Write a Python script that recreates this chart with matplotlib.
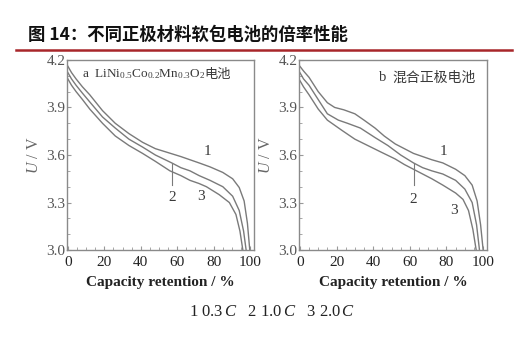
import matplotlib
matplotlib.use("Agg")
import matplotlib.pyplot as plt
from matplotlib.ticker import MultipleLocator

plt.rcParams['font.family'] = ['Liberation Serif', 'Noto Sans CJK SC']
plt.rcParams['mathtext.fontset'] = 'custom'
plt.rcParams['mathtext.rm'] = 'Liberation Serif'
plt.rcParams['mathtext.it'] = 'Liberation Serif:italic'

# panel a: LiNi0.5Co0.2Mn0.3O2 cell (capacity retention %, voltage V)
a1_x = [0, 2, 4.5, 8, 12, 19, 26, 33.5, 41, 48, 55, 62, 67, 72, 78, 85, 90.4, 94, 96.7, 98.5, 99.8]
a1_v = [4.16, 4.12, 4.08, 4.03, 3.98, 3.88, 3.80, 3.735, 3.68, 3.64, 3.615, 3.59, 3.57, 3.55,
        3.525, 3.49, 3.45, 3.395, 3.31, 3.17, 3.0]
a2_x = [0, 2, 4.5, 8, 12, 19, 26, 33.5, 41, 48, 57, 62, 67, 72, 78, 85, 90.4, 94, 96.4, 97.8]
a2_v = [4.12, 4.08, 4.04, 3.99, 3.935, 3.84, 3.77, 3.70, 3.65, 3.60, 3.55, 3.52, 3.50, 3.47,
        3.44, 3.40, 3.34, 3.25, 3.12, 3.0]
a3_x = [0, 2, 4.5, 8, 12, 19, 26, 33.5, 41, 48, 56, 62, 67, 72, 76, 83, 88.6, 92.2, 94.4, 96]
a3_v = [4.08, 4.04, 4.0, 3.95, 3.89, 3.80, 3.72, 3.66, 3.61, 3.56, 3.50, 3.47, 3.44, 3.42,
        3.40, 3.35, 3.30, 3.225, 3.12, 3.0]

# panel b: blended cathode cell
b1_x = [0, 2, 5, 10, 15, 19, 24, 30, 35, 41, 46, 52, 57, 62, 67, 72, 78, 85, 90, 94, 96.7, 98.6, 100]
b1_v = [4.16, 4.13, 4.09, 4.00, 3.93, 3.90, 3.885, 3.86, 3.82, 3.77, 3.72, 3.67, 3.64, 3.61,
        3.59, 3.57, 3.55, 3.51, 3.47, 3.41, 3.31, 3.16, 3.0]
b2_x = [0, 2, 5, 10, 15, 21, 26, 33, 41, 48, 55, 62, 67, 72, 78, 85, 90, 94, 96.4, 98]
b2_v = [4.12, 4.08, 4.04, 3.95, 3.86, 3.82, 3.80, 3.77, 3.71, 3.66, 3.60, 3.55, 3.52, 3.50,
        3.48, 3.44, 3.385, 3.30, 3.16, 3.0]
b3_x = [0, 2, 5, 10, 15, 23, 30, 37, 44, 52, 57, 62, 67, 72, 78, 85, 89, 92, 94.4, 96.2]
b3_v = [4.07, 4.03, 3.98, 3.89, 3.82, 3.755, 3.70, 3.66, 3.62, 3.575, 3.54, 3.51, 3.48, 3.45,
        3.41, 3.36, 3.32, 3.25, 3.13, 3.0]

x_ticks = [0, 20, 40, 60, 80, 100]
y_ticks = [3.0, 3.3, 3.6, 3.9, 4.2]

# curve label positions (x, v) and the short leader under label 2
a_labels = [('1', 76.5, 3.62), ('2', 57, 3.33), ('3', 73, 3.34)]
a_leader = (57, 3.545, 3.41)
b_labels = [('1', 78.5, 3.62), ('2', 62, 3.32), ('3', 84, 3.25)]
b_leader = (62, 3.55, 3.41)

title = '图 14：不同正极材料软包电池的倍率性能'
xlabel = 'Capacity retention / %'
legend_text = '1 0.3$\\,C$   2 1.0$\\,C$   3 2.0$\\,C$'

line_c = '#7a7a7a'
text_c = '#3a3a3a'

fig = plt.figure(figsize=(5.19, 3.63), dpi=100)

fig.text(0.054, 0.903, title, fontsize=12.5, fontweight='bold',
         family=['Noto Sans CJK SC'], color='#111111', va='center')
fig.add_artist(plt.Line2D([0.031, 0.986], [0.862, 0.862], color='#a8262a', lw=1.8))


def draw_panel(rect, curves, labels, leader):
    ax = fig.add_axes(rect)
    for xs, vs in curves:
        ax.plot(xs, vs, color=line_c, lw=1.0, solid_joinstyle='round')
    for s, x, v in labels:
        ax.text(x, v, s, fontsize=11, color=text_c, ha='center', va='center')
    ax.plot([leader[0], leader[0]], [leader[1], leader[2]], color=line_c, lw=0.8)
    ax.set_xlim(-0.5, 102)
    ax.set_ylim(3.0, 4.2)
    ax.set_xticks(x_ticks)
    ax.set_yticks(y_ticks)
    ax.set_yticklabels([f'{t:.1f}' for t in y_ticks])
    ax.xaxis.set_minor_locator(MultipleLocator(5))
    ax.yaxis.set_minor_locator(MultipleLocator(0.1))
    ax.tick_params(which='both', direction='in', color='#999999', labelsize=11,
                   labelcolor=text_c)
    ax.tick_params(axis='x', pad=4, labelcolor='#222222')
    ax.tick_params(axis='y', pad=1, labelcolor='#555555')
    ax.tick_params(which='major', length=3)
    ax.tick_params(which='minor', length=2)
    for sp in ax.spines.values():
        sp.set_color('#8a8a8a')
        sp.set_linewidth(1.0)
    ax.set_xlabel(xlabel, fontsize=11, fontweight='bold', color='#222222', labelpad=5)
    ax.set_ylabel('$U$ / V', fontsize=11.5, color='#666666', labelpad=3)
    return ax


ax_a = draw_panel([0.129, 0.311, 0.360, 0.524],
                  [(a1_x, a1_v), (a2_x, a2_v), (a3_x, a3_v)], a_labels, a_leader)
t_a = ax_a.text(7.5, 4.11, 'a  LiNi$_{0.5}$Co$_{0.2}$Mn$_{0.3}$O$_2$',
                fontsize=9.5, color=text_c, va='center')
ax_a.annotate('电池', xy=(1, 0.5), xycoords=t_a, va='center', ha='left',
              fontsize=9.5, color=text_c, family=['Noto Sans CJK SC'])

ax_b = draw_panel([0.576, 0.311, 0.362, 0.524],
                  [(b1_x, b1_v), (b2_x, b2_v), (b3_x, b3_v)], b_labels, b_leader)
ax_b.text(43, 4.09, 'b', fontsize=10.5, color=text_c, va='center')
ax_b.text(50.5, 4.09, '混合正极电池', fontsize=10, color=text_c, va='center',
          family=['Noto Sans CJK SC'])

fig.text(0.525, 0.14, legend_text, fontsize=12, color='#222222', ha='center', va='center')

fig.savefig('out.png', dpi=100)
